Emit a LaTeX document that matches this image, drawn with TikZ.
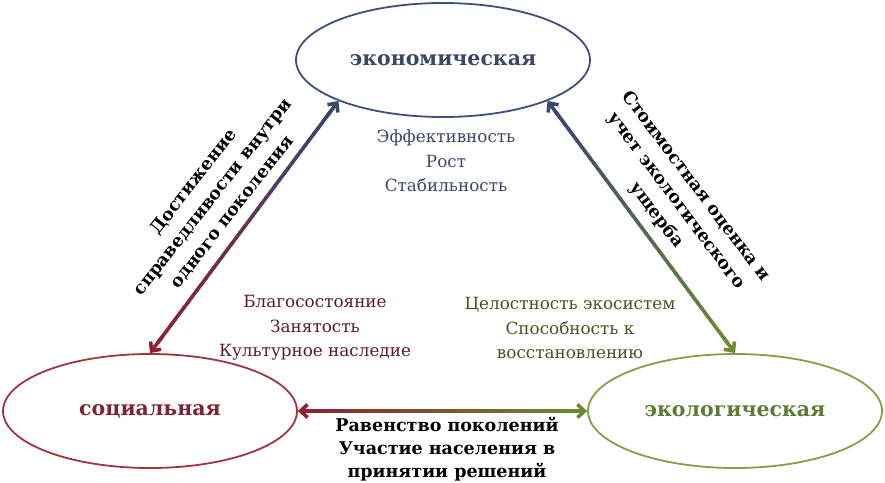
\documentclass[tikz,border=0pt]{standalone}
\usepackage{fontspec}
\setmainfont{DejaVu Serif}
\usetikzlibrary{shapes.geometric,arrows.meta,calc}
\tikzset{>={Straight Barb[length=7pt,width=13pt]}}
\definecolor{econline}{HTML}{404E7C}
\definecolor{econtext}{HTML}{3B4668}
\definecolor{socline}{HTML}{A3343F}
\definecolor{soctext}{HTML}{7B2433}
\definecolor{ecoline}{HTML}{82A046}
\definecolor{ecotext}{HTML}{5E7A34}
\definecolor{econarrow}{HTML}{3A4670}
\definecolor{socarrow}{HTML}{8E2231}
\definecolor{ecoarrow}{HTML}{6A8B32}
\tikzstyle{sphere}=[ellipse,line width=1.8pt,minimum width=294pt,minimum height=114pt,
                    inner sep=0pt,fill=white,font=\fontsize{20.5}{24}\selectfont\bfseries]
\tikzstyle{facts}=[align=center,font=\fontsize{16.8}{24.5}\selectfont]
\tikzstyle{linklabel}=[align=center,black,font=\fontsize{17.5}{24.5}\selectfont\bfseries]
\tikzstyle{link}=[line width=3.6pt]

% two-coloured double arrow: from, to, colour at start, colour at end
\newcommand{\gradlink}[4]{%
  \foreach \k in {0,...,39}{
    \pgfmathtruncatemacro{\mix}{100-2.5*\k}
    \pgfmathsetmacro{\ta}{0.04+0.92*\k/40}
    \pgfmathsetmacro{\tb}{0.04+0.92*(\k+1)/40+0.004}
    \draw[link,#3!\mix!#4] ($(#1)!\ta!(#2)$) -- ($(#1)!\tb!(#2)$);
  }
  \draw[link,->,#3] ($(#1)!0.06!(#2)$) -- (#1);
  \draw[link,->,#4] ($(#2)!0.06!(#1)$) -- (#2);
}

\begin{document}
\begin{tikzpicture}[x=1pt,y=-1pt]
  \useasboundingbox (0,0) rectangle (885,482);

  % the three spheres
  \node[sphere,draw=econline,text=econtext] (econ) at (443,60) {экономическая};
  \node[sphere,draw=socline,text=soctext] (soc) at (150,411) {социальная};
  \node[sphere,draw=ecoline,text=ecotext] (eco) at (735,411) {экологическая};

  % what each sphere stands for
  \node[facts,text=econtext] (econfacts) at (446,161) {Эффективность\\Рост\\Стабильность};
  \node[facts,text=soctext!75!black] (socfacts) at (315,328) {Благосостояние\\Занятость\\Культурное наследие};
  \node[facts,text=ecotext!70!black] (ecofacts) at (570,328) {Целостность экосистем\\Способность к\\восстановлению};

  % links between the spheres
  \gradlink{soc.north}{econ.south west}{socarrow}{econarrow}
  \gradlink{econ.south east}{eco.north}{econarrow}{ecoarrow}
  \gradlink{soc.east}{eco.west}{socarrow}{ecoarrow}

  \node[linklabel,rotate=52] (leftlabel) at (213,197)
    {Достижение\\справедливости внутри\\одного поколения};
  \node[linklabel,rotate=-53] (rightlabel) at (676,201)
    {Стоимостная оценка и\\учет экологического\\ущерба};
  \node[linklabel,font=\fontsize{17.5}{23}\selectfont\bfseries] (bottomlabel) at (447,449)
    {Равенство поколений\\Участие населения в\\принятии решений};

\end{tikzpicture}
\end{document}
